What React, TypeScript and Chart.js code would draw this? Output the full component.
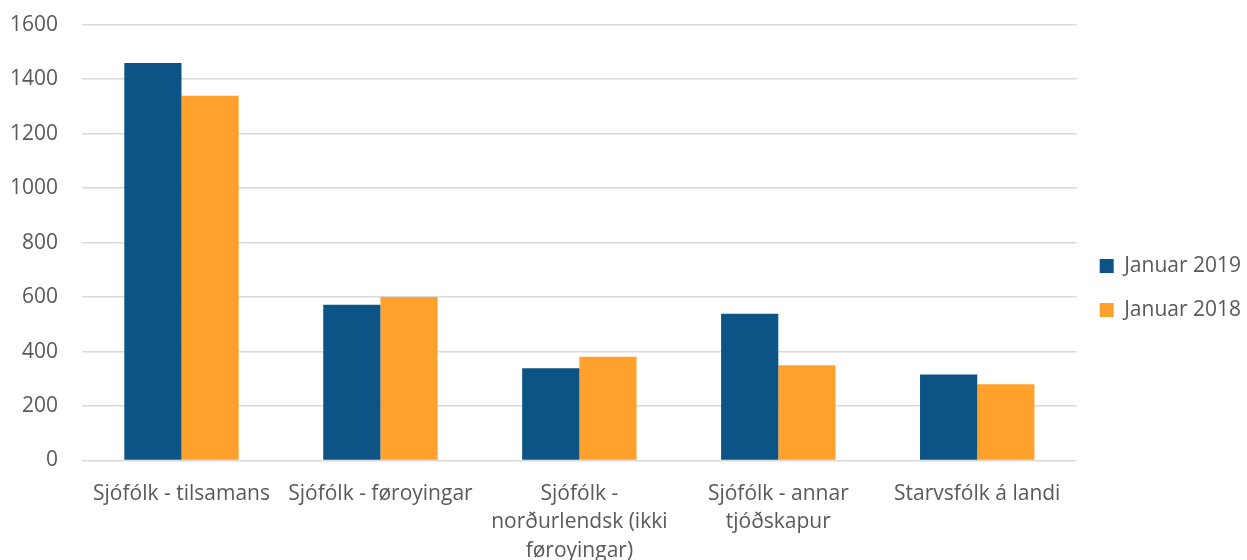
import React, { useEffect, useRef } from "react";
import { Chart, registerables } from "chart.js";

Chart.register(...registerables);

const categories: (string | string[])[] = [
  "Sjófólk - tilsamans",
  "Sjófólk - føroyingar",
  ["Sjófólk -", "norðurlendsk (ikki", "føroyingar)"],
  ["Sjófólk - annar", "tjóðskapur"],
  "Starvsfólk á landi",
];
const series2019 = [1459, 572, 339, 539, 316];
const series2018 = [1339, 600, 381, 350, 280];
const seriesLabels = ["Januar 2019", "Januar 2018"];
const yTicks = { min: 0, max: 1600, step: 200 };

export default function App() {
  const ref = useRef<HTMLCanvasElement>(null);
  useEffect(() => {
    if (!ref.current) return;
    const font = { family: "'Open Sans', sans-serif", size: 21 };
    const chart = new Chart(ref.current, {
      type: "bar",
      data: {
        labels: categories,
        datasets: [
          { label: seriesLabels[0], data: series2019, backgroundColor: "#0B5485", barPercentage: 1, categoryPercentage: 0.575 },
          { label: seriesLabels[1], data: series2018, backgroundColor: "#FFA12B", barPercentage: 1, categoryPercentage: 0.575 },
        ],
      },
      options: {
        animation: false,
        responsive: false,
        maintainAspectRatio: false,
        layout: { padding: { left: -2, top: 0, right: -4, bottom: -16 } },
        plugins: {
          tooltip: { enabled: false },
          legend: {
            position: "right",
            labels: { boxWidth: 14, boxHeight: 14, padding: 23, color: "#595959", font },
          },
        },
        scales: {
          x: {
            grid: { display: false },
            border: { display: false },
            ticks: { color: "#595959", font: { ...font, lineHeight: 1.357 }, padding: 11, maxRotation: 0, autoSkip: false },
          },
          y: {
            min: yTicks.min,
            max: yTicks.max,
            grid: { color: "#D9D9D9", lineWidth: 1.5, drawTicks: true, tickLength: 12, tickColor: "rgba(0,0,0,0)" },
            border: { display: false },
            ticks: { stepSize: yTicks.step, color: "#595959", font, padding: 12, callback: (v: any) => String(v) },
          },
        },
      },
    });
    return () => chart.destroy();
  }, []);
  return (
    <div style={{ position: "absolute", left: 0, top: 0, width: 1247, height: 560 }}>
      <canvas ref={ref} width={1247} height={560} />
    </div>
  );
}
